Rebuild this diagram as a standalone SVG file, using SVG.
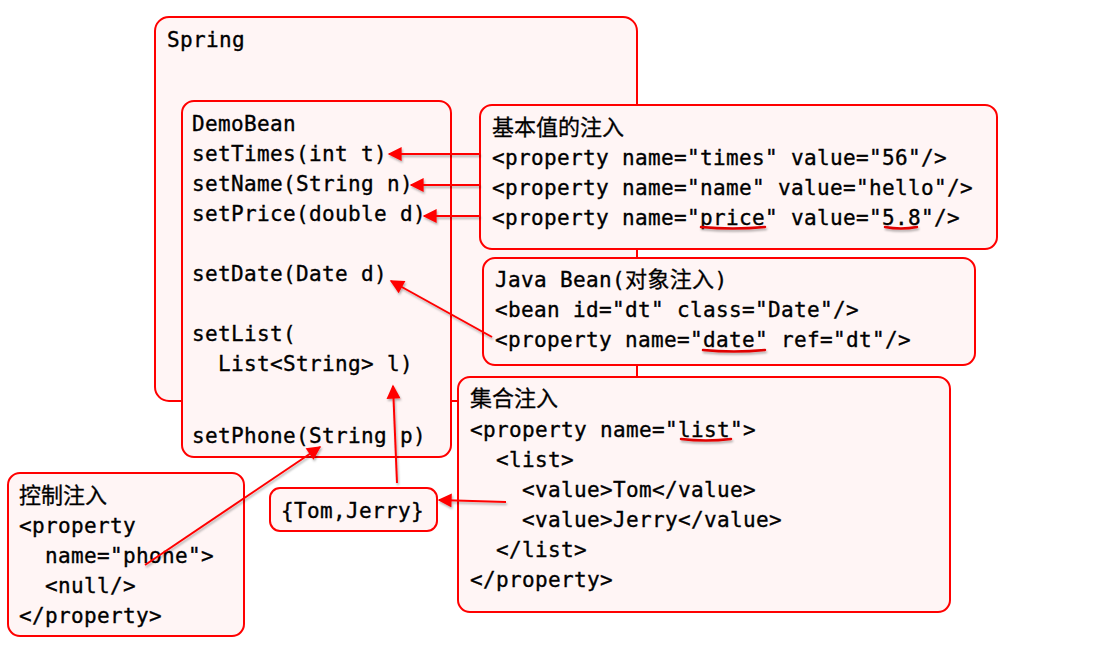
<svg xmlns="http://www.w3.org/2000/svg" width="1096" height="660" viewBox="0 0 1096 660">
<defs>
<style>
.box{fill:#fff5f5;stroke:#ff0000;stroke-width:2}
.t{font-family:"DejaVu Sans Mono","Liberation Mono","Noto Sans CJK SC",monospace;font-size:21px;letter-spacing:0.36px;fill:#000;stroke:#000;stroke-width:0.35}
.cjk{font-family:"Noto Sans CJK SC","DejaVu Sans",sans-serif;font-size:22px;fill:#000;stroke:#000;stroke-width:0.3}
.arr{stroke:#ff0000;stroke-width:2;fill:none;marker-end:url(#ah);filter:url(#sh)}
.ul{stroke:#e00000;stroke-width:2.5;fill:none;stroke-linecap:round;filter:url(#sh)}
</style>
<marker id="ah" viewBox="0 0 10 10" refX="9" refY="5" markerWidth="9" markerHeight="7" markerUnits="strokeWidth" orient="auto">
<path d="M0,0 L10,5 L0,10 z" fill="#ff0000"/>
</marker>
<filter id="sh" filterUnits="userSpaceOnUse" x="0" y="0" width="1096" height="660">
<feDropShadow dx="1" dy="2" stdDeviation="1" flood-color="#000" flood-opacity="0.3"/>
</filter>
</defs>

<g id="spring">
<rect class="box" x="155" y="17" width="482" height="384" rx="14"/>
<text class="t" x="167" y="47">Spring</text>
</g>

<g id="demobean">
<rect class="box" x="182" y="101" width="269" height="356" rx="12"/>
<text class="t" x="192" y="131">DemoBean</text>
<text class="t" x="192" y="161">setTimes(int t)</text>
<text class="t" x="192" y="191">setName(String n)</text>
<text class="t" x="192" y="221">setPrice(double d)</text>
<text class="t" x="192" y="281">setDate(Date d)</text>
<text class="t" x="192" y="341">setList(</text>
<text class="t" x="192" y="371" xml:space="preserve">  List&lt;String&gt; l)</text>
<text class="t" x="192" y="443">setPhone(String p)</text>
</g>

<g id="basic">
<rect class="box" x="480" y="105" width="517" height="144" rx="12"/>
<text class="cjk" x="492" y="135">基本值的注入</text>
<text class="t" x="492" y="165">&lt;property name="times" value="56"/&gt;</text>
<text class="t" x="492" y="195">&lt;property name="name" value="hello"/&gt;</text>
<text class="t" x="492" y="225">&lt;property name="price" value="5.8"/&gt;</text>
</g>

<g id="javabean">
<rect class="box" x="483" y="258" width="492" height="107" rx="12"/>
<text class="t" x="495" y="287">Java Bean(<tspan class="cjk">对象注入</tspan>)</text>
<text class="t" x="495" y="317">&lt;bean id="dt" class="Date"/&gt;</text>
<text class="t" x="495" y="347">&lt;property name="date" ref="dt"/&gt;</text>
</g>

<g id="collection">
<rect class="box" x="458" y="377" width="492" height="235" rx="12"/>
<text class="cjk" x="470" y="406">集合注入</text>
<text class="t" x="470" y="437">&lt;property name="list"&gt;</text>
<text class="t" x="470" y="467" xml:space="preserve">  &lt;list&gt;</text>
<text class="t" x="470" y="497" xml:space="preserve">    &lt;value&gt;Tom&lt;/value&gt;</text>
<text class="t" x="470" y="527" xml:space="preserve">    &lt;value&gt;Jerry&lt;/value&gt;</text>
<text class="t" x="470" y="557" xml:space="preserve">  &lt;/list&gt;</text>
<text class="t" x="470" y="587">&lt;/property&gt;</text>
</g>

<g id="control">
<rect class="box" x="8" y="473" width="236" height="163" rx="12"/>
<text class="cjk" x="19" y="503">控制注入</text>
<text class="t" x="19" y="533">&lt;property</text>
<text class="t" x="19" y="563" xml:space="preserve">  name="phone"&gt;</text>
<text class="t" x="19" y="593" xml:space="preserve">  &lt;null/&gt;</text>
<text class="t" x="19" y="623">&lt;/property&gt;</text>
</g>

<g id="tomjerry">
<rect class="box" x="270" y="488" width="167" height="43" rx="10"/>
<text class="t" x="281" y="518">{Tom,Jerry}</text>
</g>

<g id="connectors">
<line class="arr" x1="480" y1="154" x2="389" y2="154"/>
<line class="arr" x1="480" y1="185" x2="411" y2="185"/>
<line class="arr" x1="480" y1="216" x2="424" y2="216"/>
<line class="arr" x1="492" y1="337" x2="391" y2="281"/>
<line class="arr" x1="145" y1="565" x2="320" y2="447"/>
<line class="arr" x1="397" y1="483" x2="393" y2="386"/>
<line class="arr" x1="506" y1="502" x2="439" y2="500"/>
<path class="ul" d="M701,227 Q733,230 765,227"/>
<path class="ul" d="M885,227 Q901,230 917,227"/>
<path class="ul" d="M703,350 Q734,353 765,350"/>
<path class="ul" d="M681,439 Q706,442 731,439"/>
</g>
</svg>
